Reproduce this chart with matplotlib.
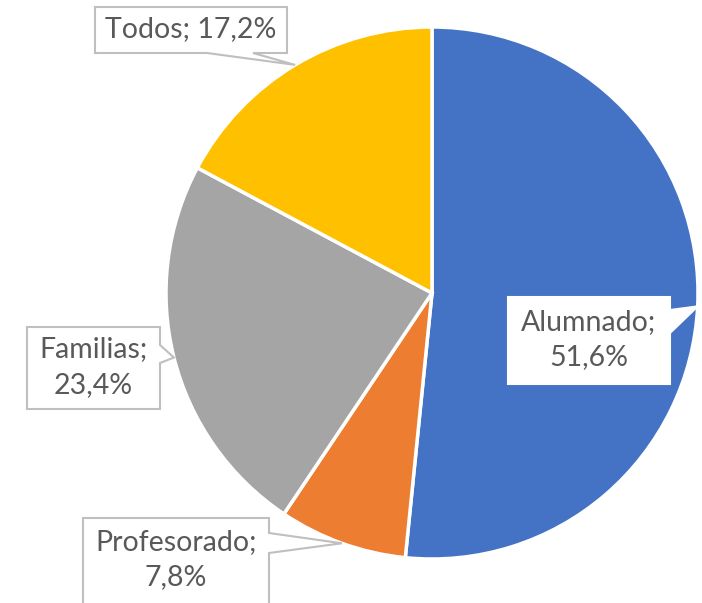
import numpy as np
import matplotlib.pyplot as plt
from matplotlib.patches import Polygon

plt.rcParams['font.family'] = ['Lato', 'DejaVu Sans']

labels = ['Alumnado', 'Profesorado', 'Familias', 'Todos']
values = [51.6, 7.8, 23.4, 17.2]
colors = ['#4472C4', '#ED7D31', '#A5A5A5', '#FFC000']
label_text = ['Alumnado;\n51,6%', 'Profesorado;\n7,8%', 'Familias;\n23,4%', 'Todos; 17,2%']

W, H = 702, 603
cx, cy, r = 432, 293, 266   # pixel coords, y down

# callout boxes (left, top, right, bottom), side of pointer, base span on that side
boxes = [
    (508, 297, 670, 384, 'right', (310, 333)),
    (83, 518, 269, 610, 'right', (533, 553)),
    (27, 327, 160, 409, 'right', (345, 363)),
    (95, 7, 287, 53, 'bottom', (207, 253)),
]
box_edge = ['white', '#BFBFBF', '#BFBFBF', '#BFBFBF']

fig = plt.figure(figsize=(W / 100, H / 100), dpi=100)
ax = fig.add_axes([0, 0, 1, 1])

wedges, _ = ax.pie(values, colors=colors, startangle=90, counterclock=False,
                   center=(cx, H - cy), radius=r, frame=False,
                   wedgeprops=dict(edgecolor='white', linewidth=2.5))
ax.set_xlim(0, W)
ax.set_ylim(0, H)
ax.set_aspect('equal')
ax.axis('off')

for w, txt, (x0, y0, x1, y1, side, base), ec in zip(wedges, label_text, boxes, box_edge):
    mid = np.deg2rad((w.theta1 + w.theta2) / 2)
    tx = cx + r * np.cos(mid)
    ty = H - cy + r * np.sin(mid)
    if side == 'right':
        pts = [(x0, y0), (x1, y0), (x1, base[0]), None, (x1, base[1]), (x1, y1), (x0, y1)]
    else:
        pts = [(x0, y0), (x1, y0), (x1, y1), (base[1], y1), None, (base[0], y1), (x0, y1)]
    poly = []
    for p in pts:
        if p is None:
            poly.append((tx, ty))
        else:
            poly.append((p[0], H - p[1]))
    ax.add_patch(Polygon(poly, closed=True, facecolor='white', edgecolor=ec,
                         linewidth=1.5, zorder=5))
    ax.text((x0 + x1) / 2, H - (y0 + min(y1, H)) / 2 + 1, txt, ha='center', va='center',
            fontsize=20.5, color='#595959', linespacing=1.45, zorder=6)

fig.savefig('out.png', dpi=100)
